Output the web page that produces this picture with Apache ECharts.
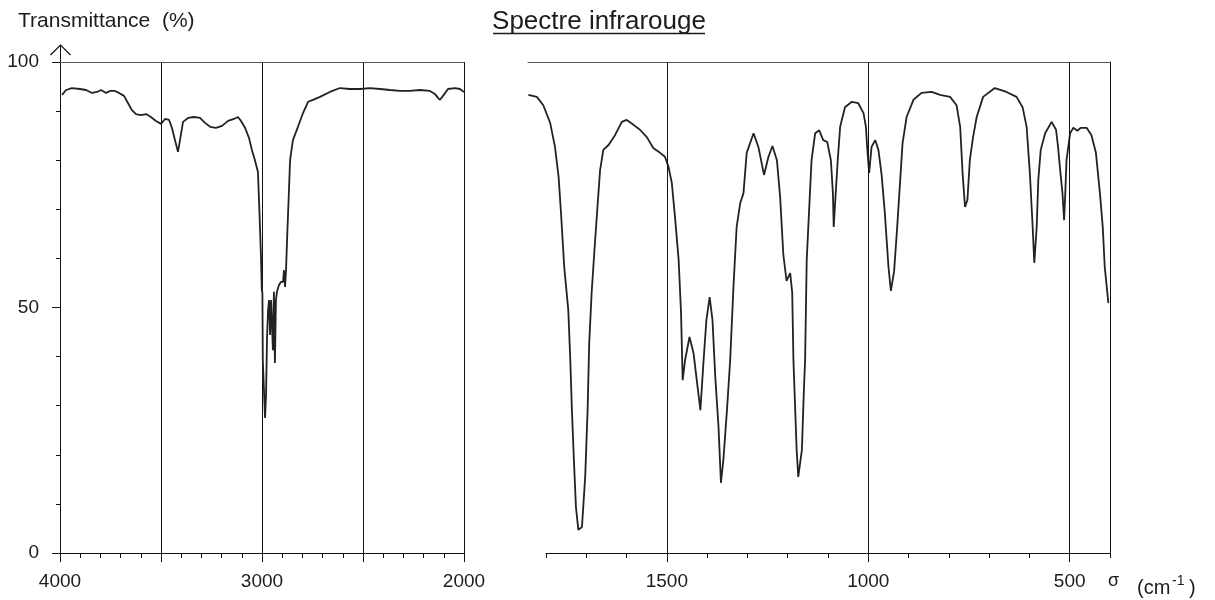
<!DOCTYPE html>
<html><head><meta charset="utf-8">
<script src="https://cdn.jsdelivr.net/npm/echarts@6/dist/echarts.min.js"></script>
<style>html,body{margin:0;padding:0;background:#fff}#c{width:1215px;height:600px}</style>
</head><body><div id="c"></div>
<script>
// ---- data (wavenumber in cm-1, transmittance in %) ----
const leftWavenumber = [3990,3970,3941,3901,3871,3842,3817,3797,3772,3752,3728,3708,3683,3663,3644,3624,3599,3574,3550,3525,3500,3480,3460,3446,3431,3416,3406,3391,3366,3337,3307,3282,3257,3228,3198,3168,3139,3119,3104,3084,3064,3050,3035,3020,3012,3005,3001,2998,2996,2990,2985,2980,2975,2970,2965,2960,2955,2951,2946,2941,2936,2931,2926,2916,2906,2896,2891,2886,2881,2876,2866,2861,2847,2822,2797,2772,2748,2713,2664,2614,2565,2515,2466,2416,2367,2317,2268,2218,2169,2144,2129,2119,2104,2079,2045,2020,2000];
const leftTransmittance = [93.3,94.3,94.7,94.5,94.3,93.7,93.9,94.3,93.7,94.1,94.1,93.7,93.1,91.6,90.2,89.4,89.2,89.4,88.8,88.0,87.4,88.4,88.2,86.6,84.1,81.7,84.1,87.8,88.6,88.8,88.6,87.6,86.8,86.6,87.0,88.0,88.4,88.8,88.0,86.6,84.5,82.1,80.0,77.6,68.8,60.3,53.6,53.0,39.3,39.3,27.5,32.2,44.0,49.5,51.5,44.4,51.5,51.5,41.3,53.2,38.7,51.5,53.2,54.6,55.2,55.2,57.6,54.2,57.6,63.7,74.5,80.0,84.1,86.8,89.6,91.9,92.3,92.9,93.9,94.7,94.5,94.5,94.7,94.5,94.3,94.1,94.1,94.3,94.1,93.5,92.7,92.3,93.1,94.5,94.7,94.5,93.9];
const rightWavenumber = [1844,1823,1807,1790,1778,1769,1763,1755,1745,1740,1736,1731,1726,1720,1711,1703,1697,1693,1687,1680,1673,1666,1658,1645,1629,1612,1600,1583,1567,1550,1534,1517,1505,1496,1488,1480,1471,1465,1461,1455,1444,1434,1426,1417,1409,1402,1394,1387,1380,1372,1366,1360,1351,1343,1335,1327,1318,1310,1302,1285,1273,1259,1248,1238,1227,1219,1211,1203,1194,1189,1186,1178,1174,1165,1160,1157,1153,1145,1141,1132,1122,1112,1102,1093,1088,1086,1081,1076,1070,1058,1041,1025,1012,1006,1003,998,992,983,975,967,959,950,944,936,929,923,915,905,888,868,843,822,797,781,772,766,760,754,748,740,731,715,686,657,632,617,607,599,592,588,582,578,572,561,545,534,529,523,518,514,511,508,499,491,481,473,458,446,435,425,418,413,404];
const rightTransmittance = [93.3,92.9,91.2,87.6,82.7,76.6,69.2,58.2,49.5,39.3,29.1,18.9,9.4,4.7,5.3,15.5,29.1,42.8,53.0,61.7,69.9,78.0,82.1,83.1,85.1,87.8,88.2,87.2,86.2,84.7,82.5,81.5,80.7,78.6,75.4,68.4,59.7,48.9,35.2,39.3,44.0,40.7,35.2,29.1,39.3,47.5,52.1,47.5,35.8,25.7,14.3,18.9,29.1,39.3,54.0,66.4,71.3,73.3,81.5,85.5,82.7,77.0,80.7,82.9,80.0,72.5,60.7,55.4,57.0,53.0,39.3,21.0,15.5,21.0,33.2,39.3,59.7,73.3,80.0,85.5,86.1,84.1,83.7,80.0,73.3,66.4,73.3,80.0,86.8,90.8,91.9,91.6,89.6,86.8,82.7,77.4,82.7,84.1,82.1,77.0,69.2,58.2,53.4,57.4,65.6,73.3,83.5,88.8,92.3,93.7,93.9,93.3,92.9,91.2,86.8,77.4,70.5,71.9,80.0,84.7,88.8,92.9,94.7,93.9,92.9,90.8,86.8,77.4,66.4,59.1,66.4,76.0,82.1,85.5,87.8,86.2,82.7,77.4,73.3,67.8,73.3,80.0,85.5,86.6,86.0,86.6,86.6,85.1,81.5,73.3,66.4,58.2,50.9];
const leftRange = [2000, 4000];
const rightDataRange = [400, 1845];
const rightAxisRange = [400, 1800];
const leftLabelValues = [4000, 3000, 2000];
const rightMajorValues = [1500, 1000, 500];
const yRange = [0, 100];

const FONT = '"Liberation Sans", Arial, sans-serif';
const INK = '#111';
const TXT = '#1c1c1c';
const zip = (xs, ys) => xs.map((x, i) => [x, ys[i]]);

const chart = echarts.init(document.getElementById('c'), null, {renderer: 'canvas'});

const hiddenAxisBits = {axisTick: {show: false}, axisLabel: {show: false}, splitLine: {show: false}};
const G = {top: 62, bottom: 47};

chart.setOption({
  animation: false,
  backgroundColor: '#fff',
  grid: [
    {left: 60, right: 751, top: G.top, bottom: G.bottom},
    {left: 528, right: 105, top: G.top, bottom: G.bottom},
    {left: 546, right: 105, top: G.top, bottom: G.bottom},
    {left: 546, right: 105, top: G.top, bottom: G.bottom}
  ],
  xAxis: [
    {gridIndex: 0, type: 'value', min: leftRange[0], max: leftRange[1], interval: 500, inverse: true, position: 'bottom',
     axisLine: {onZero: false, lineStyle: {color: INK, width: 1}},
     axisTick: {length: 9, lineStyle: {color: INK, width: 1}},
     minorTick: {show: true, splitNumber: 5, length: 5, lineStyle: {color: INK, width: 1}},
     axisLabel: {margin: 19, fontSize: 19, color: TXT, fontFamily: FONT, showMinLabel: true, showMaxLabel: true,
       formatter: v => leftLabelValues.includes(v) ? String(v) : ''},
     splitLine: {show: true, lineStyle: {color: INK, width: 1}}},
    Object.assign({gridIndex: 0, type: 'value', min: leftRange[0], max: leftRange[1], inverse: true, position: 'top',
     axisLine: {onZero: false, lineStyle: {color: '#555', width: 1}}}, hiddenAxisBits),
    Object.assign({gridIndex: 1, type: 'value', min: rightDataRange[0], max: rightDataRange[1], inverse: true, position: 'top',
     axisLine: {onZero: false, lineStyle: {color: '#555', width: 1}}}, hiddenAxisBits),
    {gridIndex: 2, type: 'value', min: rightAxisRange[0], max: rightAxisRange[1], interval: 100, inverse: true, position: 'bottom',
     axisLine: {onZero: false, lineStyle: {color: INK, width: 1}},
     axisTick: {length: 5, lineStyle: {color: INK, width: 1}},
     axisLabel: {show: false}, splitLine: {show: false}},
    {gridIndex: 3, type: 'value', min: rightAxisRange[0], max: rightAxisRange[1], inverse: true, position: 'bottom',
     axisLine: {show: false, onZero: false},
     axisTick: {customValues: rightMajorValues, length: 9, lineStyle: {color: INK, width: 1}},
     axisLabel: {customValues: rightMajorValues, margin: 19, fontSize: 19, color: TXT, fontFamily: FONT,
       formatter: v => String(v)},
     splitLine: {show: false}}
  ],
  yAxis: [
    {gridIndex: 0, type: 'value', min: yRange[0], max: yRange[1], interval: 50, position: 'left',
     axisLine: {show: true, onZero: false, lineStyle: {color: INK, width: 1}},
     axisTick: {show: true, length: 8, lineStyle: {color: INK, width: 1}},
     minorTick: {show: true, splitNumber: 5, length: 4, lineStyle: {color: INK, width: 1}},
     axisLabel: {margin: 21, fontSize: 19, color: TXT, fontFamily: FONT},
     splitLine: {show: false}},
    Object.assign({gridIndex: 1, type: 'value', min: yRange[0], max: yRange[1], position: 'right',
     axisLine: {show: true, onZero: false, lineStyle: {color: INK, width: 1}}}, hiddenAxisBits),
    {gridIndex: 2, type: 'value', min: yRange[0], max: yRange[1], show: false},
    {gridIndex: 3, type: 'value', min: yRange[0], max: yRange[1], show: false}
  ],
  series: [
    {type: 'line', name: 'left', xAxisIndex: 0, yAxisIndex: 0, data: zip(leftWavenumber, leftTransmittance),
     showSymbol: false, silent: true, lineStyle: {color: '#222', width: 1.8}},
    {type: 'line', name: 'right', xAxisIndex: 2, yAxisIndex: 1, data: zip(rightWavenumber, rightTransmittance),
     showSymbol: false, silent: true, lineStyle: {color: '#222', width: 1.8},
     markLine: {silent: true, symbol: 'none', animation: false, label: {show: false},
       lineStyle: {color: INK, type: 'solid', width: 1},
       data: rightMajorValues.map(v => ({xAxis: v}))}}
  ]
});

// decorations: y-axis arrow, titles, unit label
const topPt = chart.convertToPixel({gridIndex: 0}, [leftRange[1], yRange[1]]);
const ax = Math.round(topPt[0]) + 0.5, ay = topPt[1];
chart.setOption({
  graphic: [
    {type: 'line', shape: {x1: ax, y1: ay, x2: ax, y2: ay - 17}, style: {stroke: INK, lineWidth: 1}},
    {type: 'polyline', shape: {points: [[ax - 10, ay - 7], [ax, ay - 17], [ax + 10, ay - 7]]}, style: {stroke: INK, lineWidth: 1.2, fill: null}},
    {type: 'text', style: {text: 'Transmittance  (%)', x: 18, y: 21.5, font: '21px ' + FONT, fill: TXT, textVerticalAlign: 'middle'}},
    {type: 'text', style: {text: 'Spectre infrarouge', x: 599, y: 21.5, font: '26px ' + FONT, fill: TXT, textAlign: 'center', textVerticalAlign: 'middle'}},
    {type: 'line', shape: {x1: 493, y1: 33.5, x2: 705, y2: 33.5}, style: {stroke: TXT, lineWidth: 1.5}},
    {type: 'text', style: {text: 'σ', x: 1108, y: 581, font: '18px ' + FONT, fill: TXT, textVerticalAlign: 'middle'}},
    {type: 'text', style: {text: '(cm', x: 1137, y: 588, font: '20px ' + FONT, fill: TXT, textVerticalAlign: 'middle'}},
    {type: 'text', style: {text: '-1', x: 1172, y: 581, font: '14px ' + FONT, fill: TXT, textVerticalAlign: 'middle'}},
    {type: 'text', style: {text: ')', x: 1189, y: 588, font: '20px ' + FONT, fill: TXT, textVerticalAlign: 'middle'}}
  ]
});
</script>
</body></html>
